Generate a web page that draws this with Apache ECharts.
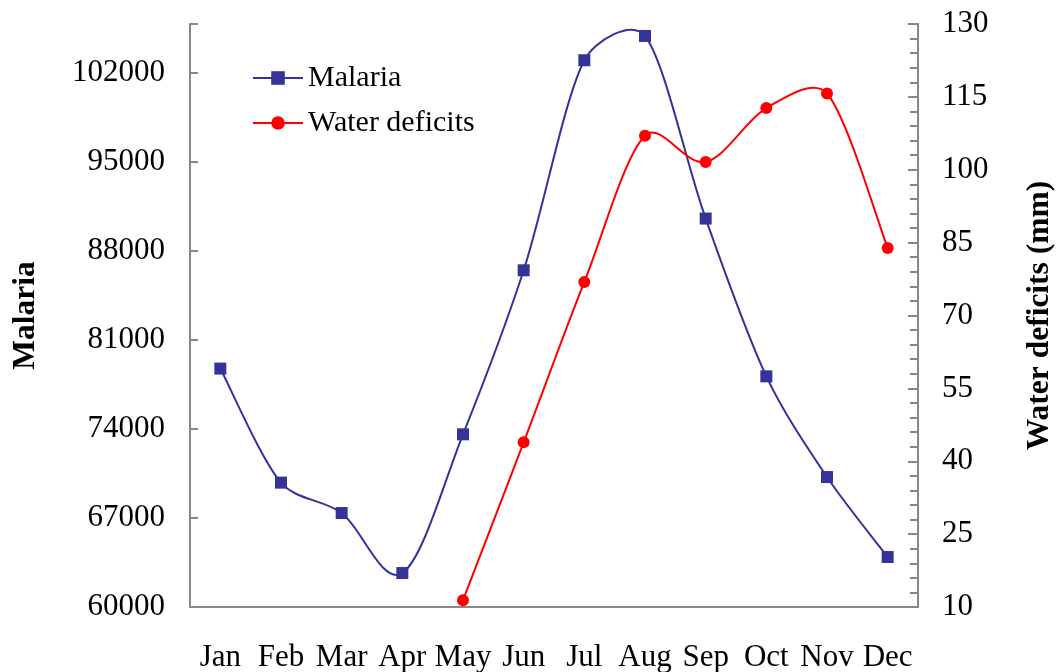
<!DOCTYPE html>
<html>
<head>
<meta charset="utf-8">
<script src="https://cdn.jsdelivr.net/npm/echarts@6/dist/echarts.min.js"></script>
<style>
html,body{margin:0;padding:0;background:#fff;}
#chart{width:1061px;height:672px;}
</style>
</head>
<body>
<div id="chart"></div>
<script>
const months = ['Jan','Feb','Mar','Apr','May','Jun','Jul','Aug','Sep','Oct','Nov','Dec'];
const malaria = [78750, 69780, 67390, 62670, 73580, 86480, 103000, 104910, 90550, 78140, 70220, 63930];
const waterDeficits = [null, null, null, null, 11.4, 43.9, 76.9, 107.0, 101.6, 112.7, 115.7, 83.9];
const leftTicks = [60000, 67000, 74000, 81000, 88000, 95000, 102000];
const rightTicks = [10, 25, 40, 55, 70, 85, 100, 115, 130];

const FONT = '"Liberation Serif", "Times New Roman", serif';
const AXIS_COLOR = '#888888';
const BLUE = '#333399';
const RED = '#ff0000';

// Excel-like smoothed bezier path through pixel points obtained from the axes
function excelSmoothPath(pts) {
  if (pts.length < 2) return '';
  const dist = (a, b) => Math.hypot(b[0] - a[0], b[1] - a[1]);
  let d = 'M' + pts[0][0] + ' ' + pts[0][1];
  for (let i = 0; i < pts.length - 1; i++) {
    const p0 = pts[i - 1] || pts[i];
    const p1 = pts[i];
    const p2 = pts[i + 1];
    const p3 = pts[i + 2] || pts[i + 1];
    const d12 = dist(p1, p2);
    const d02 = dist(p0, p2);
    const d13 = dist(p1, p3);
    let f1 = 1 / 6, f2 = 1 / 6;
    if (d02 / 6 > d12 / 3 && d02 > 0) f1 = d12 / (3 * d02);
    if (d13 / 6 > d12 / 3 && d13 > 0) f2 = d12 / (3 * d13);
    const c1 = [p1[0] + (p2[0] - p0[0]) * f1, p1[1] + (p2[1] - p0[1]) * f1];
    const c2 = [p2[0] - (p3[0] - p1[0]) * f2, p2[1] - (p3[1] - p1[1]) * f2];
    d += ' C' + c1[0] + ' ' + c1[1] + ' ' + c2[0] + ' ' + c2[1] + ' ' + p2[0] + ' ' + p2[1];
  }
  return d;
}

function curveSeries(values, axisIndex, color) {
  return {
    type: 'custom', yAxisIndex: axisIndex, clip: true, silent: true, z: 2,
    data: [[0, values.find(v => v != null)]],
    encode: { x: 0, y: 1 },
    renderItem: function (params, api) {
      const pts = [];
      values.forEach((v, i) => { if (v != null) pts.push(api.coord([i, v])); });
      return {
        type: 'path',
        shape: { pathData: excelSmoothPath(pts) },
        style: { fill: null, stroke: color, lineWidth: 2 }
      };
    }
  };
}

const chart = echarts.init(document.getElementById('chart'));
chart.setOption({
  backgroundColor: '#ffffff',
  animation: false,
  textStyle: { fontFamily: FONT, color: '#000' },
  grid: { left: 190, right: 143, top: 24, bottom: 65, containLabel: false, outerBoundsMode: 'none' },
  legend: {
    left: 247, top: 58, orient: 'vertical',
    itemWidth: 50, itemHeight: 17, itemGap: 15,
    textStyle: { fontFamily: FONT, fontSize: 30, color: '#000', lineHeight: 30 },
    data: [
      { name: 'Malaria', lineStyle: { color: BLUE, width: 2, opacity: 1 } },
      { name: 'Water deficits', lineStyle: { color: RED, width: 2, opacity: 1 } }
    ]
  },
  xAxis: {
    type: 'category', data: months, boundaryGap: true,
    axisLine: { lineStyle: { color: AXIS_COLOR, width: 2 } },
    axisTick: { inside: true, length: 8, interval: 0, lineStyle: { color: AXIS_COLOR, width: 2 } },
    axisLabel: { interval: 0, fontFamily: FONT, fontSize: 31, color: '#000', margin: 35 },
    splitLine: { show: false }
  },
  yAxis: [
    {
      type: 'value', min: leftTicks[0], max: 105850, interval: 7000, position: 'left',
      name: 'Malaria', nameLocation: 'middle', nameGap: 148, nameRotate: 90,
      nameTextStyle: { fontFamily: FONT, fontSize: 31.5, fontWeight: 'bold', color: '#000' },
      axisLine: { show: true, lineStyle: { color: AXIS_COLOR, width: 2 } },
      axisTick: { show: true, inside: true, length: 8, lineStyle: { color: AXIS_COLOR, width: 2 } },
      axisLabel: {
        fontFamily: FONT, fontSize: 31, color: '#000', margin: 25,
        formatter: v => leftTicks.indexOf(v) >= 0 ? String(v) : ''
      },
      splitLine: { show: false }
    },
    {
      type: 'value', min: rightTicks[0], max: rightTicks[rightTicks.length - 1], interval: 15, position: 'right',
      name: 'Water deficits (mm)', nameLocation: 'middle', nameGap: 106, nameRotate: 90,
      nameTextStyle: { fontFamily: FONT, fontSize: 31.5, fontWeight: 'bold', color: '#000' },
      axisLine: { show: true, lineStyle: { color: AXIS_COLOR, width: 2 } },
      axisTick: { show: true, inside: true, length: 10, lineStyle: { color: AXIS_COLOR, width: 2 } },
      minorTick: { show: true, splitNumber: 5, length: 8, lineStyle: { color: AXIS_COLOR, width: 2 } },
      axisLabel: { fontFamily: FONT, fontSize: 31, color: '#000', margin: 24 },
      splitLine: { show: false }, minorSplitLine: { show: false }
    }
  ],
  series: [
    curveSeries(malaria, 0, BLUE),
    curveSeries(waterDeficits, 1, RED),
    {
      name: 'Malaria', type: 'line', yAxisIndex: 0, data: malaria, z: 5,
      symbol: 'rect', symbolSize: 12,
      itemStyle: { color: BLUE },
      lineStyle: { color: BLUE, width: 2, opacity: 0 }
    },
    {
      name: 'Water deficits', type: 'line', yAxisIndex: 1, data: waterDeficits, z: 5,
      symbol: 'circle', symbolSize: 12,
      itemStyle: { color: RED },
      lineStyle: { color: RED, width: 2, opacity: 0 }
    }
  ]
});
</script>
</body>
</html>
